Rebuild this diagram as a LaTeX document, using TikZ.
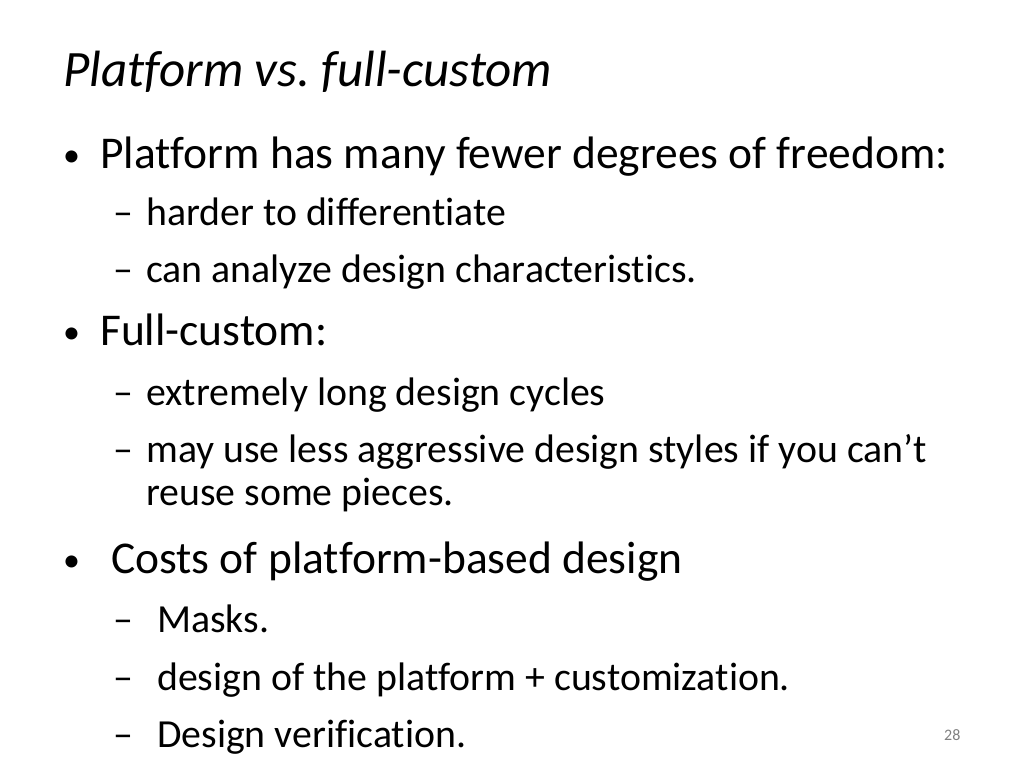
\documentclass[tikz,border=0pt]{standalone}
\usepackage{fontspec}
\setmainfont[Ligatures=NoCommon]{Carlito}
\frenchspacing
\begin{document}
\begin{tikzpicture}[x=1pt,y=-1pt,
 t/.style={anchor=base west,inner sep=0pt},
 big/.style={t,font=\fontsize{45.5}{50}\selectfont},
 bul/.style={t,font=\fontsize{34}{40}\selectfont},
 sml/.style={t,font=\fontsize{39.8}{44}\selectfont}]
\useasboundingbox[fill=white] (0,0) rectangle (1024,768);
\node[t,font=\fontsize{51}{56}\selectfont\itshape] (title) at (63,86) {Platform vs. full-custom};
\node[bul] (b1d) at (63,166) {•};
\node[big] (b1) at (100,168) {Platform has many fewer degrees of freedom:};
\node[sml] (s1d) at (113,225) {–};
\node[sml] (s1) at (146,225) {harder to differentiate};
\node[sml] (s2d) at (113,282) {–};
\node[sml] (s2) at (146,282) {can analyze design characteristics.};
\node[bul] (b2d) at (63,343) {•};
\node[big] (b2) at (100,345) {Full-custom:};
\node[sml] (s3d) at (113,405) {–};
\node[sml] (s3) at (146,405) {extremely long design cycles};
\node[sml] (s4d) at (113,462) {–};
\node[sml] (s4) at (146,462) {may use less aggressive design styles if you can’t};
\node[sml] (s4b) at (146,505) {reuse some pieces.};
\node[bul] (b3d) at (63,571) {•};
\node[big] (b3) at (111,573) {Costs of platform-based design};
\node[sml] (s5d) at (113,632) {–};
\node[sml] (s5) at (157,632) {Masks.};
\node[sml] (s6d) at (113,690) {–};
\node[sml] (s6) at (157,690) {design of the platform + customization.};
\node[sml] (s7d) at (113,747) {–};
\node[sml] (s7) at (157,747) {Design verification.};
\node[t,font=\fontsize{16}{18}\selectfont,text=gray] (pg) at (944,740) {28};
\end{tikzpicture}
\end{document}
